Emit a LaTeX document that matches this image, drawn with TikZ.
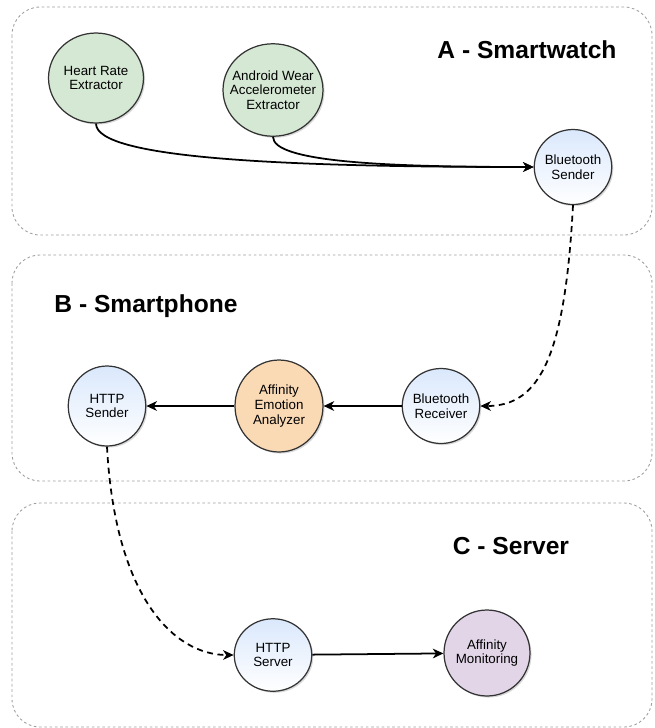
\documentclass[tikz,border=0pt]{standalone}
\usepackage{fontspec}
\setmainfont{Liberation Sans}
\usetikzlibrary{shapes.geometric,arrows.meta,shadows}

\definecolor{watchgreen}{HTML}{D5E8D4}
\definecolor{linkblue}{HTML}{DAE8FC}
\definecolor{emopeach}{HTML}{FAD9B5}
\definecolor{monpurple}{HTML}{E1D5E7}
\definecolor{rimgray}{HTML}{333333}

\tikzset{
  device/.style={draw=gray!75, line width=0.5pt, dash pattern=on 1.5pt off 1.5pt, rounded corners=16pt},
  devlabel/.style={font=\fontsize{14}{16}\selectfont\bfseries},
  proc/.style={ellipse, draw=rimgray, line width=0.7pt, inner sep=-5pt, align=center,
    font=\fontsize{7.6}{8.4}\selectfont, text=black,
    drop shadow={shadow xshift=0.9pt, shadow yshift=-0.9pt, opacity=0.3}},
  sensor/.style={proc, fill=watchgreen, minimum width=1.9cm, minimum height=1.8cm},
  link/.style={proc, top color=linkblue, bottom color=white, minimum width=1.55cm, minimum height=1.5cm},
  analyzer/.style={proc, fill=emopeach, minimum width=1.76cm, minimum height=1.84cm},
  monitor/.style={proc, fill=monpurple, minimum width=1.72cm, minimum height=1.72cm},
  flow/.style={-{Stealth[length=6pt,width=5.5pt,inset=1.8pt]}, line width=1pt},
  radio/.style={flow, dash pattern=on 3.4pt off 2.6pt},
}

\begin{document}
\begin{tikzpicture}[x=0.02cm, y=-0.02cm]
  \useasboundingbox (0,0) rectangle (654,728);

  % devices
  \draw[device] (12,7) rectangle (652,235);
  \draw[device] (12,255) rectangle (652,481);
  \draw[device] (12,503) rectangle (652,727);
  \node[devlabel] (watch) at (527,50) {A - Smartwatch};
  \node[devlabel] (phone) at (146,306) {B - Smartphone};
  \node[devlabel] (server) at (511,546) {C - Server};

  % smartwatch
  \node[sensor] (hr) at (96,78) {Heart Rate\\Extractor};
  \node[sensor, minimum width=2cm, minimum height=1.85cm] (aw) at (273,90) {Android Wear\\Accelerometer\\Extractor};
  \node[link] (bs) at (573,167) {Bluetooth\\Sender};

  % smartphone
  \node[link] (br) at (441,406) {Bluetooth\\Receiver};
  \node[analyzer] (emo) at (279,406) {Affinity\\Emotion\\Analyzer};
  \node[link, minimum height=1.6cm] (hs) at (107,406) {HTTP\\Sender};

  % server
  \node[link, minimum height=1.45cm] (hsv) at (273,655) {HTTP\\Server};
  \node[monitor] (mon) at (487,653) {Affinity\\Monitoring};

  \begin{scope}[flow]
    \draw (hr.south) .. controls +(0,35) and +(-250,0) .. (bs.west);
    \draw (aw.south) .. controls +(0,25) and +(-150,0) .. (bs.west);
    \draw (br) -- (emo);
    \draw (emo) -- (hs);
    \draw (hsv) -- (mon);
  \end{scope}
  \begin{scope}[radio]
    \draw (bs.south) .. controls +(-8,150) and +(60,0) .. (br.east);
    \draw (hs.south) .. controls +(8,150) and +(-60,0) .. (hsv.west);
  \end{scope}
\end{tikzpicture}
\end{document}
